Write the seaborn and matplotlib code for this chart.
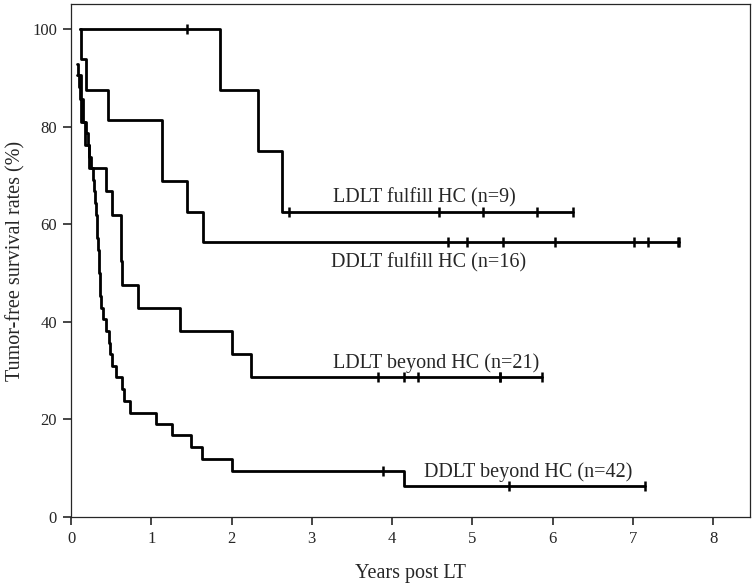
import numpy as np
import pandas as pd
import matplotlib
matplotlib.use("Agg")
import matplotlib.pyplot as plt
import seaborn as sns

# ---- data (years, survival %) ----
ldlt_ful_t = [0.11, 1.86, 2.33, 2.63]
ldlt_ful_s = [100.0, 87.5, 75.0, 62.5]
ldlt_ful_cens = [1.44, 2.72, 4.58, 5.13, 5.81, 6.25]

ddlt_ful_t = [0.11, 0.12, 0.19, 0.46, 1.13, 1.44, 1.65]
ddlt_ful_s = [100.0, 93.75, 87.5, 81.25, 68.75, 62.5, 56.25]
ddlt_ful_cens = [4.70, 4.94, 5.38, 6.03, 7.01, 7.19, 7.56, 7.57]

ldlt_bey_t = [0.08, 0.12, 0.15, 0.18, 0.22, 0.44, 0.51, 0.62, 0.64, 0.83, 1.36, 2.01, 2.24]
ldlt_bey_s = [90.5, 85.7, 81.0, 76.2, 71.4, 66.7, 61.9, 52.4, 47.6, 42.9, 38.1, 33.3, 28.6]
ldlt_bey_cens = [3.82, 4.15, 4.32, 5.34, 5.35, 5.87]

ddlt_bey_t = [0.07, 0.09, 0.10, 0.11, 0.12, 0.125, 0.19, 0.21, 0.23, 0.25, 0.27,
              0.29, 0.30, 0.31, 0.32, 0.33, 0.34, 0.345, 0.35, 0.36, 0.365, 0.37,
              0.40, 0.44, 0.47, 0.49, 0.51, 0.56, 0.64, 0.66, 0.73, 1.06, 1.26,
              1.50, 1.63, 2.01, 4.15]
ddlt_bey_s = [92.9, 90.5, 88.1, 85.7, 83.3, 81.0, 78.6, 76.2, 73.8, 71.4, 69.0,
              66.7, 64.3, 61.9, 59.5, 57.1, 54.8, 52.4, 50.0, 47.6, 45.2, 42.9,
              40.5, 38.1, 35.7, 33.3, 31.0, 28.6, 26.2, 23.8, 21.4, 19.0, 16.7,
              14.3, 11.9, 9.5, 6.35]
ddlt_bey_cens = [3.89, 5.46, 7.15]

group_names = ["LDLT fulfill HC (n=9)", "DDLT fulfill HC (n=16)",
               "LDLT beyond HC (n=21)", "DDLT beyond HC (n=42)"]
label_xy = [(4.40, 62.5), (4.45, 56.25), (4.55, 28.6), (5.70, 6.35)]
label_off = [(0, 10), (0, -15), (0, 10.5), (0, 10)]

groups = [
    (ldlt_ful_t, ldlt_ful_s, ldlt_ful_cens),
    (ddlt_ful_t, ddlt_ful_s, ddlt_ful_cens),
    (ldlt_bey_t, ldlt_bey_s, ldlt_bey_cens),
    (ddlt_bey_t, ddlt_bey_s, ddlt_bey_cens),
]

line_rows, cens_rows = [], []
for name, (t, s, c) in zip(group_names, groups):
    t = list(t); s = list(s)
    end = max(max(c), t[-1])
    tt = t + [end]
    ss = s + [s[-1]]
    for a, b in zip(tt, ss):
        line_rows.append({"group": name, "time": a, "surv": b})
    for ct in c:
        idx = np.searchsorted(np.array(t), ct, side="right") - 1
        cens_rows.append({"group": name, "time": ct, "surv": s[idx]})

lines = pd.DataFrame(line_rows)
cens = pd.DataFrame(cens_rows)

sns.set_style("ticks")
plt.rcParams["font.family"] = ["Liberation Serif", "DejaVu Serif"]

fig = plt.figure(figsize=(7.52, 5.84), dpi=100)
ax = fig.add_axes([71 / 752, 1 - 517 / 584, 679 / 752, 513 / 584])

for name in group_names:
    sns.lineplot(data=lines[lines.group == name], x="time", y="surv",
                 estimator=None, sort=False, color="black", lw=2.0,
                 drawstyle="steps-post", ax=ax, legend=False)

sns.scatterplot(data=cens, x="time", y="surv", marker="|", s=60,
                color="black", linewidth=1.8, ax=ax, legend=False, zorder=3)

for name, (x, y), (dx, dy) in zip(group_names, label_xy, label_off):
    ax.annotate(name, (x, y), xytext=(dx, dy), textcoords="offset points",
                ha="center", va="center", fontsize=14.5)

ax.set_xlim(0, 8.46)
ax.set_ylim(0, 105.1)
ax.set_xticks(range(0, 9))
ax.set_yticks(range(0, 101, 20))
ax.tick_params(direction="out", length=6, width=1.2, labelsize=12, pad=4)
for sp in ax.spines.values():
    sp.set_linewidth(0.9)
    sp.set_visible(True)
ax.set_xlabel("Years post LT", fontsize=14.5, labelpad=12)
ax.set_ylabel("Tumor-free survival rates (%)", fontsize=14.5, labelpad=5)

fig.savefig("out.png", dpi=100)
